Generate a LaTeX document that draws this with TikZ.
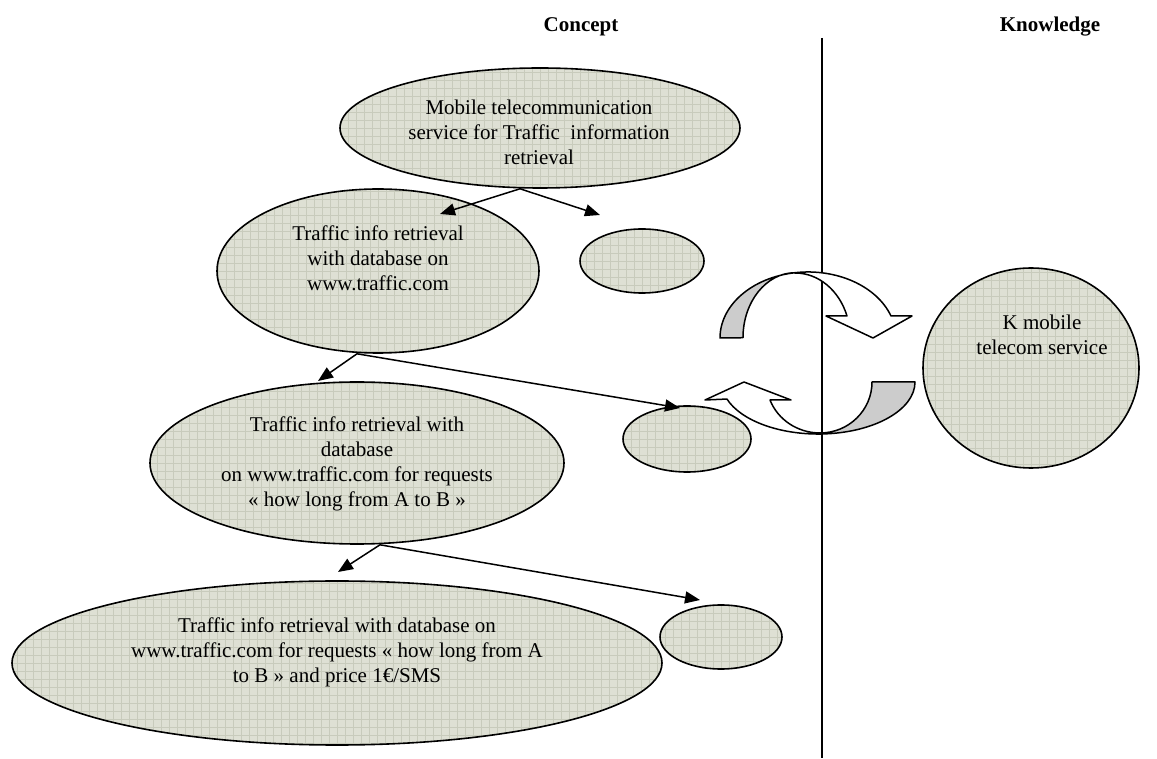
\documentclass[tikz,border=0pt]{standalone}
\usepackage{fontspec}
\setmainfont{Liberation Serif}
\usetikzlibrary{shapes.geometric,arrows.meta}
\definecolor{bubblebg}{RGB}{222,224,212}
\definecolor{gridc}{RGB}{200,203,188}
\definecolor{bandgray}{RGB}{204,204,204}
\begin{document}
\begin{tikzpicture}[x=1pt,y=1pt,
  bubble/.style={ellipse, draw=black, line width=1.6pt, fill=bubblebg, inner sep=0pt,
    path picture={\draw[gridc, line width=0.5pt, step=8pt] (path picture bounding box.south west) grid (path picture bounding box.north east);}},
  txt/.style={align=center, inner sep=0pt, font=\fontsize{21}{25}\selectfont},
  head/.style={inner sep=0pt, font=\fontsize{21}{25}\selectfont\bfseries},
  conn/.style={line width=1.5pt, -{Triangle[length=15pt,width=12pt]}},
  band/.style={draw=black, line width=1.5pt, line join=round}]
\useasboundingbox (0,0) rectangle (1157,758);

% headers and separator
\node[head] (hc) at (581,731) {Concept};
\node[head] (hk) at (1050,731) {Knowledge};
\coordinate (ltop) at (822,720);
\coordinate (lbot) at (822,0);
\draw[line width=1.5pt] (ltop) -- (lbot);

% bubbles
\node[bubble, minimum width=400, minimum height=120] (e1) at (540,630) {};
\node[bubble, minimum width=322, minimum height=164] (e2) at (378,487) {};
\node[bubble, minimum width=124, minimum height=64] (s1) at (642,497) {};
\node[bubble, minimum width=414, minimum height=162] (e3) at (357,295) {};
\node[bubble, minimum width=128, minimum height=66] (s2) at (687,319) {};
\node[bubble, minimum width=650, minimum height=164] (e4) at (337,95) {};
\node[bubble, minimum width=122, minimum height=64] (s3) at (721,121) {};
\node[bubble, minimum width=216, minimum height=200] (k) at (1031,390) {};

% texts
\node[txt] (t1) at (539,626) {Mobile telecommunication\\service for Traffic\ \ information\\retrieval};
\node[txt] (t2) at (378,500) {Traffic info retrieval\\with database on\\www.traffic.com};
\node[txt] (t3) at (357,294) {Traffic info retrieval with\\database\\on www.traffic.com for requests\\« how long from A to B »};
\node[txt] (t4) at (337,106) {Traffic info retrieval with database on\\www.traffic.com for requests « how long from A\\to B » and price 1€/SMS};
\node[txt] (tk) at (1042,423) {K mobile\\telecom service};

% connectors
\draw[conn] ([xshift=-20pt]e1.south) -- ([shift={(62,57)}]e2.center);
\draw[conn] ([xshift=-20pt]e1.south) -- ([shift={(-42,46)}]s1.center);
\draw[conn] ([xshift=-21pt]e2.south) -- ([shift={(-39,82)}]e3.center);
\draw[conn] ([xshift=-21pt]e2.south) -- ([shift={(-7,31)}]s2.center);
\draw[conn] ([xshift=23pt]e3.south) -- ([shift={(1,91)}]e4.center);
\draw[conn] ([xshift=23pt]e3.south) -- ([shift={(-21,37)}]s3.center);

% upper curved arrow (concept -> knowledge)
\filldraw[band, fill=bandgray] (720,420) arc[start angle=180,end angle=98.5,x radius=88,y radius=66]
  arc[start angle=90,end angle=180,x radius=52,y radius=65] -- cycle;
\filldraw[band, fill=white] (795,485.3) arc[start angle=98.5,end angle=19.5,x radius=88,y radius=66]
  -- (912,442) -- (873,420) -- (826,442) -- (847,442)
  arc[start angle=19.8,end angle=90,x radius=55,y radius=65] -- cycle;

% lower curved arrow (knowledge -> concept)
\filldraw[band, fill=bandgray] (915,376) arc[start angle=0,end angle=-88,x radius=96.7,y radius=52]
  -- (820,325) arc[start angle=-90,end angle=0,x radius=52,y radius=51] -- cycle;
\filldraw[band, fill=white] (821.7,324) arc[start angle=-88,end angle=-160.9,x radius=96.7,y radius=52]
  -- (705,358) -- (744,376) -- (791,358) -- (770,358)
  arc[start angle=200.7,end angle=270,x radius=53.4,y radius=51] -- cycle;
\end{tikzpicture}
\end{document}
